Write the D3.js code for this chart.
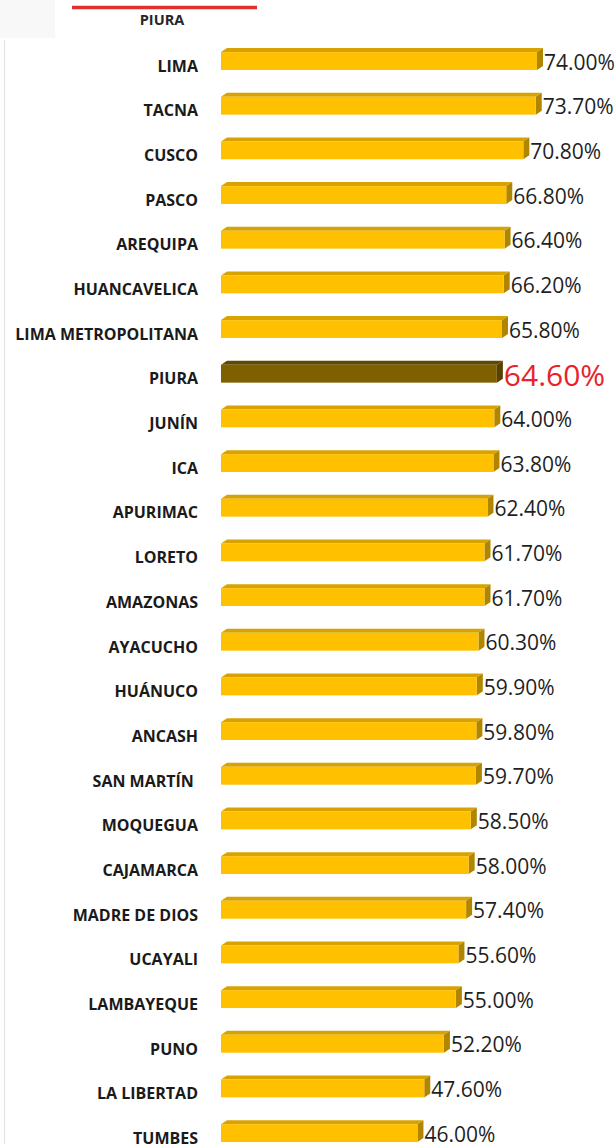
<!DOCTYPE html>
<html>
<head>
<meta charset="utf-8">
<script src="https://cdn.jsdelivr.net/npm/d3@7"></script>
<style>
  html, body { margin: 0; padding: 0; background: #fff; }
  svg { display: block; }
</style>
</head>
<body>
<div id="chart"></div>
<script>
// regions, sorted as in the picture
const regions = ['LIMA', 'TACNA', 'CUSCO', 'PASCO', 'AREQUIPA', 'HUANCAVELICA',
  'LIMA METROPOLITANA', 'PIURA', 'JUNÍN', 'ICA', 'APURIMAC', 'LORETO', 'AMAZONAS',
  'AYACUCHO', 'HUÁNUCO', 'ANCASH', 'SAN MARTÍN\u00a0', 'MOQUEGUA', 'CAJAMARCA',
  'MADRE DE DIOS', 'UCAYALI', 'LAMBAYEQUE', 'PUNO', 'LA LIBERTAD', 'TUMBES'];
const values = [74.0, 73.7, 70.8, 66.8, 66.4, 66.2, 65.8, 64.6, 64.0, 63.8, 62.4, 61.7,
  61.7, 60.3, 59.9, 59.8, 59.7, 58.5, 58.0, 57.4, 55.6, 55.0, 52.2, 47.6, 46.0];
const highlight = 'PIURA';
const legendLabel = 'PIURA';

const width = 615, height = 1144;
const depthX = 6, depthY = 4;

const data = regions.map((r, i) => ({ name: r, value: values[i] }));

const svg = d3.select('#chart').append('svg')
  .attr('width', width)
  .attr('height', height);

// faint frame bits from the original screenshot
svg.append('rect').attr('x', 0).attr('y', 0).attr('width', 55).attr('height', 38).attr('fill', '#f8f8f8');
svg.append('line')
  .attr('x1', 4.5).attr('x2', 4.5).attr('y1', 40).attr('y2', height)
  .attr('stroke', '#e2e2e2').attr('stroke-width', 1);

// legend piece at top
svg.append('line')
  .attr('x1', 72).attr('x2', 257).attr('y1', 7.5).attr('y2', 7.5)
  .attr('stroke', '#e03131').attr('stroke-width', 3.5);
svg.append('text')
  .attr('x', 162).attr('y', 25)
  .attr('text-anchor', 'middle')
  .style('font-family', 'Open Sans, sans-serif')
  .style('font-weight', 700)
  .style('font-size', '14.5px')
  .attr('fill', '#262626')
  .text(legendLabel);

const x = d3.scaleLinear().domain([0, 74]).range([221, 537]);
const y = d3.scaleBand().domain(regions)
  .range([38.7, 38.7 + 25 * 44.67])
  .paddingInner(0.6)
  .paddingOuter(0.3);

const rows = svg.selectAll('g.row')
  .data(data)
  .enter()
  .append('g')
  .attr('class', 'row');

const hi = d => d.name === highlight;

// top face
rows.append('polygon')
  .attr('points', d => {
    const x0 = x(0), x1 = x(d.value), y0 = y(d.name);
    return [[x0, y0], [x0 + depthX, y0 - depthY], [x1 + depthX, y0 - depthY], [x1, y0]].join(' ');
  })
  .attr('fill', d => hi(d) ? '#5f4800' : '#d8a300');

// side face
rows.append('polygon')
  .attr('points', d => {
    const x1 = x(d.value), y0 = y(d.name), h = y.bandwidth();
    return [[x1, y0], [x1 + depthX, y0 - depthY], [x1 + depthX, y0 + h - depthY], [x1, y0 + h]].join(' ');
  })
  .attr('fill', d => hi(d) ? '#574100' : '#b08500');

// front face
rows.append('rect')
  .attr('x', x(0))
  .attr('y', d => y(d.name))
  .attr('width', d => x(d.value) - x(0))
  .attr('height', y.bandwidth())
  .attr('fill', d => hi(d) ? '#7f6000' : '#ffc000');

// category labels
rows.append('text')
  .attr('x', 198)
  .attr('y', d => y(d.name) + y.bandwidth() / 2 + 5)
  .attr('dy', '0.36em')
  .attr('text-anchor', 'end')
  .style('font-family', 'Open Sans, sans-serif')
  .style('font-weight', 700)
  .style('font-size', '16px')
  .attr('fill', '#1a1a1a')
  .text(d => d.name);

// value labels
rows.append('text')
  .attr('x', d => x(d.value) + depthX + 1)
  .attr('y', d => y(d.name) + y.bandwidth() / 2 + 1)
  .attr('dy', '0.36em')
  .style('font-family', 'Open Sans, sans-serif')
  .style('font-weight', d => hi(d) ? 400 : 500)
  .style('font-size', d => hi(d) ? '30px' : '21px')
  .attr('fill', d => hi(d) ? '#e8232a' : '#1f1f1f')
  .text(d => d.value.toFixed(2) + '%');
</script>
</body>
</html>
